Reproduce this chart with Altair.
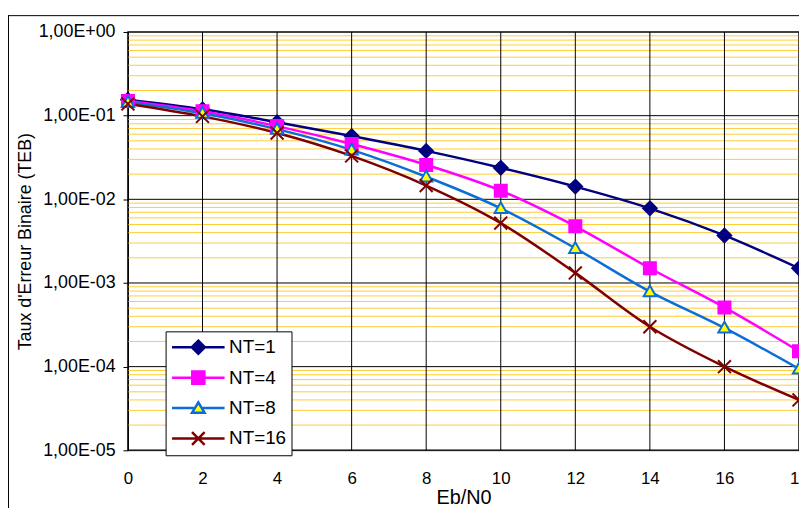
import altair as alt
import pandas as pd

# ---- data ----
eb_n0 = [0, 2, 4, 6, 8, 10, 12, 14, 16, 18]
nt1 = [0.155, 0.119, 0.0835, 0.057, 0.0379, 0.0238, 0.0142, 0.0078, 0.0037, 0.0015]
nt4 = [0.150, 0.113, 0.075, 0.0458, 0.0258, 0.0127, 0.00476, 0.0015, 0.00051, 0.000153]
nt8 = [0.145, 0.107, 0.069, 0.039, 0.0186, 0.0078, 0.0026, 0.00079, 0.00029, 0.000094]
nt16 = [0.138, 0.098, 0.062, 0.033, 0.0146, 0.0052, 0.00132, 0.0003, 0.0001, 0.00004]
series_names = ["NT=1", "NT=4", "NT=8", "NT=16"]
series_values = [nt1, nt4, nt8, nt16]

decades = [1e-5, 1e-4, 1e-3, 1e-2, 1e-1, 1.0]
x_ticks = [0, 2, 4, 6, 8, 10, 12, 14, 16, 18]

# ---- styles ----
line_colors = ["#000080", "#FF00FF", "#0A6ED6", "#800000"]
marker_fills = ["#000080", "#FF00FF", "#FFFF00", "transparent"]
marker_paths = [
    "M0,-1.05L1.05,0L0,1.05L-1.05,0Z",
    "M-0.93,-0.93H0.93V0.93H-0.93Z",
    "M0,-0.95L0.95,0.72H-0.95Z",
    "M-1,-1L1,1M-1,1L1,-1",
]
legend_paths = [
    "M-1,0H-0.24M0.24,0H1M0,-0.25L0.25,0L0,0.25L-0.25,0Z",
    "M-1,0H-0.23M0.23,0H1M-0.23,-0.23H0.23V0.23H-0.23Z",
    "M-1,0H-0.17M0.17,0H1M0,-0.22L0.24,0.18H-0.24Z",
    "M-1,0H1M-0.24,-0.24L0.24,0.24M-0.24,0.24L0.24,-0.24",
]
FONT = "Liberation Sans"

rows = []
for name, vals in zip(series_names, series_values):
    for x, v in zip(eb_n0, vals):
        rows.append({"x": x, "teb": v, "series": name})
df = pd.DataFrame(rows)

minor_vals = [k * d for d in decades[:-1] for k in range(2, 10)]
minor_df = pd.DataFrame({"v": minor_vals})
decade_df = pd.DataFrame({"v": decades})
xgrid_df = pd.DataFrame({"x": x_ticks})
one = pd.DataFrame({"a": [0]})

W, H = 677, 422
xscale = alt.Scale(domain=[0, 18], nice=False, zero=False)
yscale = alt.Scale(type="log", domain=[1e-5, 1], nice=False)

label_expr = ("'1,00E' + (datum.value >= 1 ? '+00' : '-0' + "
              "format(round(-log(datum.value) / LN10), 'd'))")

x_axis = alt.Axis(values=x_ticks, ticks=False, domain=False, grid=False,
                  labelFontSize=17, labelPadding=21, labelColor="black",
                  labelFont=FONT, title="Eb/N0", titleFont=FONT,
                  titleFontSize=20, titleFontWeight="normal", titleColor="black",
                  titlePadding=1, labelFlush=False, labelOverlap=False)
y_axis = alt.Axis(values=decades, labelExpr=label_expr, tickSize=5,
                  tickColor="black", domainColor="black", grid=False,
                  labelFontSize=18, labelPadding=8, labelColor="black",
                  labelFont=FONT, title="Taux d'Erreur Binaire (TEB)",
                  titleFont=FONT, titleFontSize=18, titleFontWeight="normal",
                  titleColor="black", titlePadding=4, labelOverlap=False)

minor = alt.Chart(minor_df).mark_rule(color="#FFCC33", strokeWidth=1).encode(
    y=alt.Y("v:Q", scale=yscale, axis=y_axis)
)
vgrid = alt.Chart(xgrid_df).mark_rule(color="black", strokeWidth=1).encode(
    x=alt.X("x:Q", scale=xscale, axis=x_axis)
)
hgrid = alt.Chart(decade_df).mark_rule(color="black", strokeWidth=1).encode(
    y=alt.Y("v:Q", scale=yscale)
)

lines = alt.Chart(df).mark_line(interpolate="monotone", strokeWidth=2.5).encode(
    x=alt.X("x:Q", scale=xscale),
    y=alt.Y("teb:Q", scale=yscale),
    color=alt.Color("series:N", scale=alt.Scale(domain=series_names, range=line_colors),
                    legend=None),
)

points = alt.Chart(df).mark_point(filled=False, size=170, strokeWidth=2, opacity=1).encode(
    x=alt.X("x:Q", scale=xscale),
    y=alt.Y("teb:Q", scale=yscale),
    color=alt.Color("series:N", scale=alt.Scale(domain=series_names, range=line_colors),
                    legend=None),
    fill=alt.Fill("series:N", scale=alt.Scale(domain=series_names, range=marker_fills),
                  legend=None),
    shape=alt.Shape("series:N", scale=alt.Scale(domain=series_names, range=marker_paths),
                    legend=None),
)

leg = alt.Legend(orient="none", legendX=38, legendY=302, title=None)
legend_layer = alt.Chart(df).transform_filter("false").mark_point(
    filled=False, size=2809, strokeWidth=2.5, opacity=1
).encode(
    x=alt.X("x:Q", scale=xscale),
    y=alt.Y("teb:Q", scale=yscale),
    color=alt.Color("series:N", scale=alt.Scale(domain=series_names, range=line_colors),
                    legend=leg, title=None),
    fill=alt.Fill("series:N", scale=alt.Scale(domain=series_names, range=marker_fills),
                  legend=leg, title=None),
    shape=alt.Shape("series:N", scale=alt.Scale(domain=series_names, range=legend_paths),
                    legend=leg, title=None),
)

frame_top = alt.Chart(one).mark_rule(color="black", strokeWidth=1).encode(
    x=alt.value(-121), x2=alt.value(W), y=alt.value(-16.5)
)
frame_left = alt.Chart(one).mark_rule(color="black", strokeWidth=1).encode(
    x=alt.value(-120.5), y=alt.value(-17), y2=alt.value(H + 60)
)

chart = alt.layer(
    minor, vgrid, hgrid, lines, points, legend_layer, frame_top, frame_left
).resolve_scale(
    color="independent", fill="independent", shape="independent"
).properties(
    width=W, height=H,
    autosize=alt.AutoSizeParams(type="none"),
    padding={"left": 121, "top": 22, "right": 0, "bottom": 56},
).configure_view(
    stroke="#808080", strokeWidth=2
).configure_legend(
    strokeColor="black", fillColor="white", padding=5, labelFont=FONT,
    labelFontSize=19, labelColor="black", clipHeight=22, rowPadding=8.7,
    labelOffset=3, symbolStrokeWidth=2.5, symbolSize=2809, cornerRadius=0,
)

chart.save("out.html", embed_options={"renderer": "svg", "actions": False})
